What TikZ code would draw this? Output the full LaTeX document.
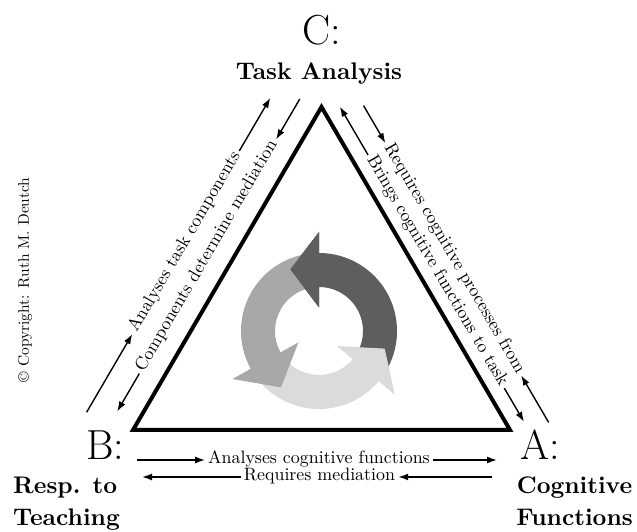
\documentclass[tikz,border=0pt]{standalone}
\usepackage{fontspec}
\setmainfont{lmroman10-regular}[Extension=.otf, BoldFont=lmroman10-bold]
\newfontfamily\cornerfont{lmroman17-regular}[Extension=.otf]
\usetikzlibrary{arrows.meta,calc}

\definecolor{cycdark}{gray}{0.37}
\definecolor{cycmid}{gray}{0.66}
\definecolor{cyclight}{gray}{0.86}

\tikzset{
  corner/.style={font=\cornerfont\fontsize{42}{42}\selectfont, inner sep=0pt},
  corname/.style={font=\fontsize{24}{32}\selectfont\bfseries, inner sep=0pt},
  sidetext/.style={font=\fontsize{17.9}{18}\selectfont, inner sep=3pt, text height=0.7em, text depth=0.05em},
  sidearrow/.style={->, line width=1.4pt},
}

\begin{document}
\begin{tikzpicture}[x=1pt, y=1pt, >={Latex[length=10pt,width=7pt]}]
  % page frame, 637 x 532
  \useasboundingbox (0,0) rectangle (637,532);

  % triangle A-B-C
  \coordinate (B) at (133,102);
  \coordinate (A) at (510,102);
  \coordinate (C) at (321.5,425);
  \draw[line width=4pt, line join=miter] (B) -- (A) -- (C) -- cycle;

  % the three circular arrows (tail/base/tip angles)
  \coordinate (cyc) at (319,201);
  \foreach \tl/\bs/\tp/\col in {-30/90/115/cycdark, 215/320/345/cyclight, 100/209/236/cycmid} {
    \fill[\col, shift={(cyc)}] (\tl:78) arc[start angle=\tl, end angle=\bs, radius=78]
      -- (\bs:99) -- (\tp:68) -- (\bs:23.5) -- (\bs:44)
      arc[start angle=\bs, end angle=\tl, radius=44] -- cycle;
  }
  \fill[cycdark, shift={(cyc)}] (90:99) -- (115:68) -- (90:23.5) -- cycle;

  % corner labels
  \node[corner, anchor=base] (lblC) at (322,487) {C:};
  \node[corname, anchor=base] (nameC) at (319,452) {Task Analysis};
  \node[corner, anchor=base west] (lblB) at (86,72) {B:};
  \node[corname, anchor=north west, align=left] (nameB) at (13,55) {Resp. to\\Teaching};
  \node[corner, anchor=base west] (lblA) at (520,72) {A:};
  \node[corname, anchor=north, align=center] (nameA) at (574.5,55) {Cognitive\\Functions};

  % side B-C
  \begin{scope}[shift={(B)}, rotate=59.7]
    \node[sidetext, rotate=59.7] (tskout) at (188.5,49) {Analyses task components};
    \node[sidetext, rotate=59.7] (tskin) at (187.5,23) {Components determine mediation};
    \coordinate (tskout-a) at (-8,49);
    \coordinate (tskout-b) at (356,49);
    \coordinate (tskin-a) at (8,23);
    \coordinate (tskin-b) at (370,23);
  \end{scope}
  \draw[sidearrow] (tskout-a) -- (tskout.west);
  \draw[sidearrow] (tskout.east) -- (tskout-b);
  \draw[sidearrow] (tskin.west) -- (tskin-a);
  \draw[sidearrow] (tskin-b) -- (tskin.east);

  % side C-A
  \begin{scope}[shift={(C)}, rotate=-59.7]
    \node[sidetext, rotate=-59.7] (cogout) at (198,37) {Requires cognitive processes from};
    \node[sidetext, rotate=-59.7] (cogin) at (200,16) {Brings cognitive functions to task};
    \coordinate (cogout-a) at (20,37);
    \coordinate (cogout-b) at (387,37);
    \coordinate (cogin-a) at (9,16);
    \coordinate (cogin-b) at (374,16);
  \end{scope}
  \draw[sidearrow] (cogout-a) -- (cogout.west);
  \draw[sidearrow] (cogout-b) -- (cogout.east);
  \draw[sidearrow] (cogin.west) -- (cogin-a);
  \draw[sidearrow] (cogin.east) -- (cogin-b);

  % side B-A
  \begin{scope}[shift={(B)}]
    \node[sidetext] (cogan) at (186,-30) {Analyses cognitive functions};
    \node[sidetext] (medreq) at (186.5,-47) {Requires mediation};
    \coordinate (cogan-a) at (4,-30);
    \coordinate (cogan-b) at (364,-30);
    \coordinate (medreq-a) at (9,-47);
    \coordinate (medreq-b) at (359,-47);
  \end{scope}
  \draw[sidearrow] (cogan-a) -- (cogan.west);
  \draw[sidearrow] (cogan.east) -- (cogan-b);
  \draw[sidearrow] (medreq.west) -- (medreq-a);
  \draw[sidearrow] (medreq-b) -- (medreq.east);

  % copyright
  \node[font=\fontsize{15.4}{16}\selectfont, rotate=90] (copy) at (25,252) {\textcopyright\ Copyright: Ruth M. Deutch};
\end{tikzpicture}
\end{document}
